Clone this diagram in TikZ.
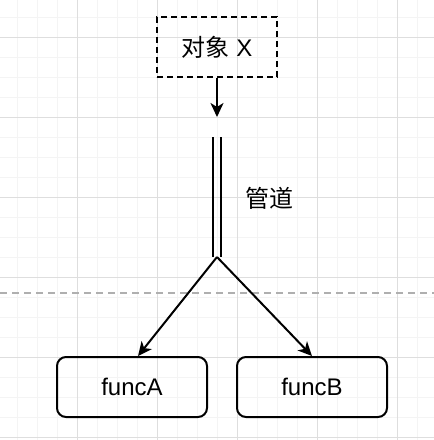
\documentclass[tikz,border=0pt]{standalone}
\usepackage{fontspec}
\setmainfont{Liberation Sans}
\newfontfamily\cjk{Noto Sans CJK SC}
\usepackage{tikz}
\usetikzlibrary{arrows.meta}
\tikzset{>={Stealth[length=14pt,width=13pt,inset=4pt]}}
\definecolor{gridgray1}{RGB}{244, 244, 244}
\definecolor{gridgray2}{RGB}{222, 222, 222}
\definecolor{sepgray}{RGB}{175, 175, 175}

\begin{document}
\begin{tikzpicture}[x=1pt, y=-1pt, line width=2pt,
  txt/.style={font=\fontsize{24}{28}\selectfont},
  box/.style={txt, draw, rounded corners=9pt, minimum width=150pt, minimum height=60pt},
  objbox/.style={txt, draw, dash pattern=on 6pt off 4pt, minimum width=120pt, minimum height=60pt}]
\useasboundingbox (0,0) rectangle (434,440);
% grid
\foreach \x in {17,37,...,434} \draw[gridgray1, line width=1pt] (\x,0) -- (\x,440);
\foreach \y in {17,37,...,440} \draw[gridgray1, line width=1pt] (0,\y) -- (434,\y);
\foreach \x in {77,157,...,434} \draw[gridgray2, line width=1pt] (\x,0) -- (\x,440);
\foreach \y in {37,117,...,440} \draw[gridgray2, line width=1pt] (0,\y) -- (434,\y);
\draw[sepgray, dash pattern=on 7pt off 5pt] (0,293) -- (434,293);

\node[objbox] (obj) at (217,47) {{\cjk 对象} X};
\coordinate (objin) at (217,117);
\coordinate (ptop) at (217,137);
\coordinate (pjoin) at (217,257);
\node[txt, anchor=west] (pipe) at (241,198) {\cjk 管道};
\node[box] (funcA) at (132,387) {funcA};
\node[box] (funcB) at (312,387) {funcB};

\draw[->] (obj) -- (objin);
\draw ([xshift=-4pt]ptop) -- ([xshift=-4pt]pjoin);
\draw ([xshift=4pt]ptop) -- ([xshift=4pt]pjoin);
\draw[->] (pjoin) -- ([xshift=6pt]funcA.north);
\draw[->] (pjoin) -- (funcB.north);
\end{tikzpicture}
\end{document}
